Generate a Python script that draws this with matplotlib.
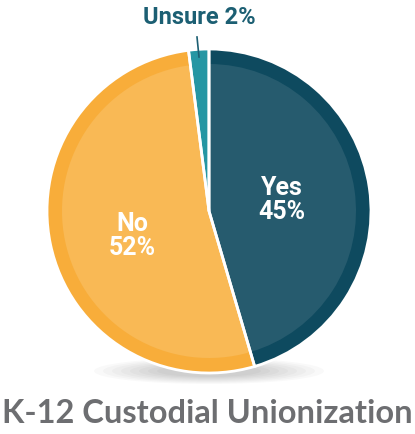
import matplotlib.pyplot as plt
from matplotlib.patches import Ellipse

labels = ['Yes', 'No', 'Unsure']
values = [45, 52, 2]
outer_colors = ['#0e4a5f', '#f8ad3a', '#2596a3']
inner_colors = ['#265b6e', '#f9b955', '#2596a3']
title = 'K-12 Custodial Unionization'

fig = plt.figure(figsize=(4.15, 4.35), dpi=100)
ax = fig.add_axes([0, 0, 1, 1])

cx, cy = 209, 435 - 212

# soft shadow under the pie
for i in range(8):
    ax.add_patch(Ellipse((cx, cy - 160), 230 - i * 18, 26 - i * 2,
                         color='#000000', alpha=0.025, lw=0, zorder=0))

ax.pie(values, colors=outer_colors, startangle=90, counterclock=False,
       center=(cx, cy), radius=162, wedgeprops=dict(linewidth=0), frame=True)
ax.pie(values, colors=inner_colors, startangle=90, counterclock=False,
       center=(cx, cy), radius=147, wedgeprops=dict(linewidth=0), frame=True)
# white separators + outline on top
ax.pie(values, colors=['none'] * 3, startangle=90, counterclock=False,
       center=(cx, cy), radius=162,
       wedgeprops=dict(edgecolor='white', linewidth=2, facecolor='none'), frame=True)

ax.set_xlim(0, 415)
ax.set_ylim(0, 435)
ax.set_aspect('equal')
ax.axis('off')

ax.text(282, 435 - 200, 'Yes\n45%', color='white', fontsize=18, fontweight='bold',
        ha='center', va='center', family='Roboto', linespacing=1.05)
ax.text(132, 435 - 236, 'No\n52%', color='white', fontsize=18, fontweight='bold',
        ha='center', va='center', family='Roboto', linespacing=1.05)
ax.text(199, 435 - 18, 'Unsure 2%', color='#1c5f73', fontsize=17, fontweight='bold',
        ha='center', va='center', family='Roboto')
ax.plot([197, 199], [435 - 38, 435 - 58], color='#1c5f73', lw=1.2)

ax.text(207, 435 - 414, title, color='#6d6e71', fontsize=23.5, fontweight='bold',
        ha='center', va='center', family='Lato')

fig.savefig('out.png', dpi=100)
